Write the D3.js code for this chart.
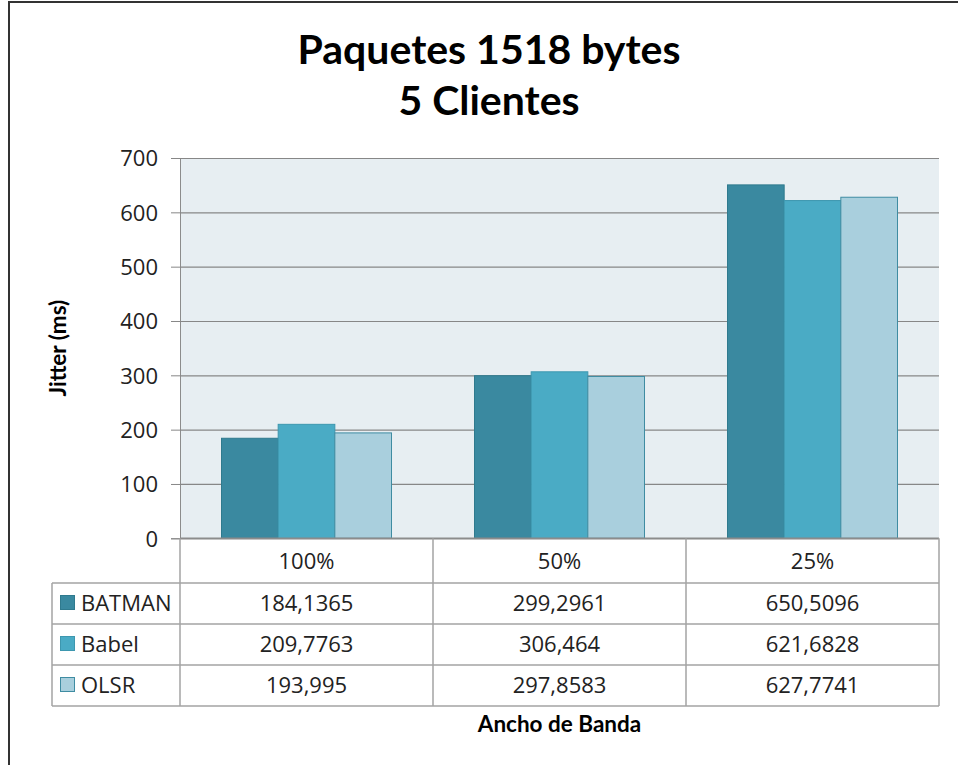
<!DOCTYPE html>
<html>
<head>
<meta charset="utf-8">
<script src="https://cdn.jsdelivr.net/npm/d3@7"></script>
<style>
  html, body { margin: 0; padding: 0; background: #fff; }
  svg { display: block; }
</style>
</head>
<body>
<svg id="chart" width="958" height="765"></svg>
<script>
const categories = ["100%", "50%", "25%"];
const seriesNames = ["BATMAN", "Babel", "OLSR"];
const batman = [184.1365, 299.2961, 650.5096];
const babel = [209.7763, 306.464, 621.6828];
const olsr = [193.995, 297.8583, 627.7741];
const tableLabels = [
  ["184,1365", "299,2961", "650,5096"],
  ["209,7763", "306,464", "621,6828"],
  ["193,995", "297,8583", "627,7741"]
];
const yTicks = [0, 100, 200, 300, 400, 500, 600, 700];
const titleLines = ["Paquetes 1518 bytes", "5 Clientes"];
const yTitle = "Jitter (ms)";
const xTitle = "Ancho de Banda";

const seriesValues = [batman, babel, olsr];
const fills = ["#3a89a0", "#4aabc5", "#a9cfdd"];
const strokes = ["#2f7a8e", "#3d97af", "#3f8ca2"];

const svg = d3.select("#chart");
const W = 958, H = 765;
const plot = { left: 180, right: 939, top: 158, bottom: 538.3 };
const bodyFont = "'Open Sans', 'DejaVu Sans', sans-serif";
const boldFont = "Lato, 'Open Sans', sans-serif";

svg.append("rect").attr("width", W).attr("height", H).attr("fill", "#fff");

// outer frame (top & left)
svg.append("line").attr("x1", 8).attr("x2", W).attr("y1", 2).attr("y2", 2)
  .attr("stroke", "#333").attr("stroke-width", 2);
svg.append("line").attr("x1", 9).attr("x2", 9).attr("y1", 1).attr("y2", H)
  .attr("stroke", "#333").attr("stroke-width", 2);

// title
svg.append("g").selectAll("text").data(titleLines).join("text")
  .attr("x", 489).attr("y", (d, i) => 64 + i * 51)
  .attr("text-anchor", "middle")
  .attr("font-family", boldFont).attr("font-weight", "bold")
  .attr("font-size", 41).attr("fill", "#000")
  .text(d => d);

const x0 = d3.scaleBand().domain(categories).range([plot.left, plot.right]).paddingInner(0).paddingOuter(0);
const groupW = 170;
const x1 = d3.scaleBand().domain(seriesNames)
  .range([(x0.bandwidth() - groupW) / 2, (x0.bandwidth() + groupW) / 2]);
const y = d3.scaleLinear().domain([0, 700]).range([plot.bottom, plot.top]);

// plot background
svg.append("rect").attr("x", plot.left).attr("y", plot.top)
  .attr("width", plot.right - plot.left).attr("height", plot.bottom - plot.top)
  .attr("fill", "#e7eef2");

// y axis with gridlines
const yAxis = d3.axisLeft(y).tickValues(yTicks).tickSize(9).tickPadding(13);
const yg = svg.append("g").attr("transform", `translate(${plot.left},0)`).call(yAxis);
yg.select(".domain").attr("stroke", "#8c8c8c");
yg.selectAll(".tick line").attr("stroke", "#878787");
yg.selectAll(".tick text").attr("font-family", bodyFont).attr("font-size", 22)
  .attr("fill", "#222").attr("dy", "0.36em");
yg.selectAll(".tick").append("line")
  .attr("x1", 0).attr("x2", plot.right - plot.left)
  .attr("stroke", "#878787").attr("stroke-width", 1.2);

// bars
const groups = svg.append("g").selectAll("g").data(categories).join("g")
  .attr("transform", d => `translate(${x0(d)},0)`);
groups.selectAll("rect").data((c, ci) => seriesNames.map((s, si) => ({ s, si, v: seriesValues[si][ci] })))
  .join("rect")
  .attr("x", d => x1(d.s))
  .attr("width", x1.bandwidth())
  .attr("y", d => y(d.v))
  .attr("height", d => y(0) - y(d.v))
  .attr("fill", d => fills[d.si])
  .attr("stroke", d => strokes[d.si])
  .attr("stroke-width", 1);

// data table
const rowTop = [plot.bottom, 583, 624, 665, 706];
const tableLeft = 52;
const lineColor = "#a3a3a3";
const tg = svg.append("g");
tg.append("line").attr("x1", plot.left).attr("x2", plot.right)
  .attr("y1", plot.bottom).attr("y2", plot.bottom).attr("stroke", "#8c8c8c").attr("stroke-width", 1.5);
[583, 624, 665, 706].forEach(yy => {
  tg.append("line").attr("x1", tableLeft).attr("x2", plot.right)
    .attr("y1", yy).attr("y2", yy).attr("stroke", lineColor).attr("stroke-width", 1.5);
});
const colEdges = categories.map(c => x0(c)).concat([plot.right]);
colEdges.forEach(xx => {
  tg.append("line").attr("x1", xx).attr("x2", xx).attr("y1", plot.bottom).attr("y2", 706)
    .attr("stroke", lineColor).attr("stroke-width", 1.5);
});
tg.append("line").attr("x1", tableLeft).attr("x2", tableLeft).attr("y1", 583).attr("y2", 706)
  .attr("stroke", lineColor).attr("stroke-width", 1.5);

// header labels
tg.selectAll("text.cat").data(categories).join("text").attr("class", "cat")
  .attr("x", d => x0(d) + x0.bandwidth() / 2)
  .attr("y", (rowTop[0] + rowTop[1]) / 2 + 8)
  .attr("text-anchor", "middle")
  .attr("font-family", bodyFont).attr("font-size", 22).attr("fill", "#222")
  .text(d => d);

// rows
seriesNames.forEach((s, si) => {
  const cy = (rowTop[si + 1] + rowTop[si + 2]) / 2;
  tg.append("rect").attr("x", 60.5).attr("y", cy - 8).attr("width", 14).attr("height", 14)
    .attr("fill", fills[si]).attr("stroke", strokes[si]).attr("stroke-width", 1);
  tg.append("text").attr("x", 81).attr("y", cy + 7)
    .attr("font-family", bodyFont).attr("font-size", 22).attr("fill", "#222")
    .text(s);
  tg.selectAll(null).data(categories).join("text")
    .attr("x", d => x0(d) + x0.bandwidth() / 2)
    .attr("y", cy + 7)
    .attr("text-anchor", "middle")
    .attr("font-family", bodyFont).attr("font-size", 22).attr("fill", "#222")
    .text((d, ci) => tableLabels[si][ci]);
});

// axis titles
svg.append("text")
  .attr("transform", `translate(66, ${(plot.top + plot.bottom) / 2}) rotate(-90)`)
  .attr("text-anchor", "middle")
  .attr("font-family", boldFont).attr("font-weight", "bold").attr("font-size", 22.5).attr("fill", "#000")
  .text(yTitle);
svg.append("text")
  .attr("x", (plot.left + plot.right) / 2).attr("y", 732)
  .attr("text-anchor", "middle")
  .attr("font-family", boldFont).attr("font-weight", "bold").attr("font-size", 22.5).attr("fill", "#000")
  .text(xTitle);
</script>
</body>
</html>
